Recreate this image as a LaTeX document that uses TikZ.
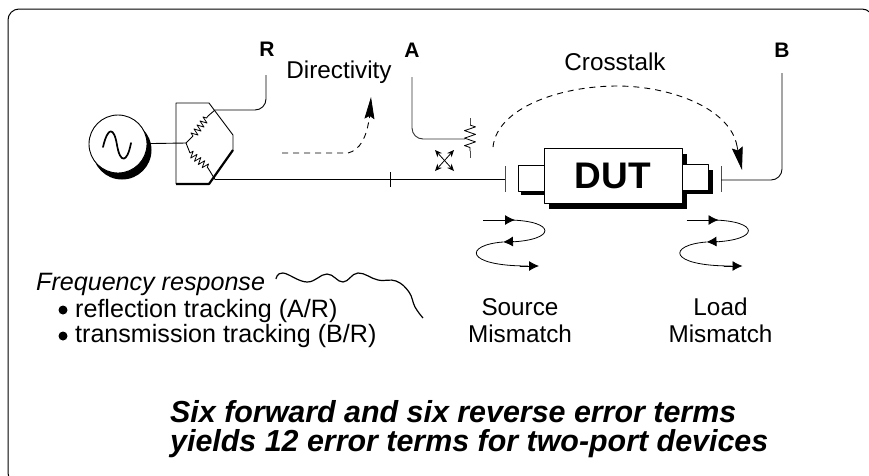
\documentclass[tikz,border=0pt]{standalone}
\usepackage{fontspec}
\setmainfont{Liberation Sans}
\usetikzlibrary{arrows.meta,decorations.pathmorphing}
\tikzset{
	label text/.style = {font = \fontsize{24.3}{27}\selectfont, inner sep = 0pt, align = center},
	port text/.style = {font = \fontsize{21}{24}\selectfont\bfseries, inner sep = 0pt},
	sum text/.style = {font = \fontsize{30.4}{34}\selectfont\bfseries\itshape, inner sep = 0pt, anchor = base west},
	list text/.style = {font = \fontsize{25.1}{27}\selectfont, inner sep = 0pt, anchor = base west},
	wire/.style = {line width = 0.9pt},
	resistor/.style = {line width = 0.8pt, decorate, decoration = {zigzag, segment length = 5pt, amplitude = 3.5pt}},
	signal/.style = {line width = 0.8pt, -{Latex[length = 10pt, width = 10pt]}},
	leak/.style = {line width = 0.9pt, dash pattern = on 6pt off 5pt},
	double tip/.style = {line width = 0.8pt, {Stealth[length = 7pt, width = 6pt]}-{Stealth[length = 7pt, width = 6pt]}},
	port tick/.style = {line width = 1pt, black!70}
}
\begin{document}
\begin{tikzpicture}[x = 1pt, y = -1pt, line join = round]
	\useasboundingbox (0, 0) rectangle (869, 475);
	\clip (0, 0) rectangle (869, 475);
	%%%%%%%%%%%%%
	\draw [line width = 1pt, rounded corners = 11pt] (8, 9) rectangle (873, 484);
	%%%%%%%%%%%%%
	% source
	\fill (122, 150) circle [radius = 29.5];
	\node (source) [circle, draw, fill = white, line width = 0.9pt, minimum size = 58pt, inner sep = 0pt] at (118, 144) {};
	\draw [line width = 1.7pt, line cap = round] (103, 147) .. controls (108, 126) and (114, 127) .. (117, 145) .. controls (120, 163) and (127, 164) .. (131, 143);
	%%%%%%%%%%%%%
	% power splitter
	\coordinate (pda) at (176, 103);
	\coordinate (pdb) at (209, 103);
	\coordinate (pdc) at (233, 135);
	\coordinate (pdd) at (233, 150);
	\coordinate (pde) at (209, 184);
	\coordinate (pdf) at (176, 184);
	\coordinate (hub) at (186, 143);
	\coordinate (top) at (215, 110);
	\coordinate (bot) at (215, 179.5);
	\draw [line width = 2.2pt] (pdd) -- (pde) -- (pdf);
	\draw [line width = 0.9pt] (pdf) -- (pda) -- (pdb) -- (pdc) -- (pdd);
	\draw [wire] (source) -- (hub);
	\coordinate (rta) at (193, 136);
	\coordinate (rtb) at (208, 116);
	\coordinate (rba) at (190, 153);
	\coordinate (rbb) at (208, 168);
	\draw [wire] (hub) -- (rta);
	\draw [wire] (hub) -- (rba);
	\draw [resistor] (rta) -- (rtb);
	\draw [resistor] (rba) -- (rbb);
	\draw [wire] (rtb) -- (top);
	\draw [wire] (rbb) -- (bot);
	%%%%%%%%%%%%%
	% wires to the receivers
	\node (r) [port text] at (267, 49) {R};
	\node (a) [port text] at (412, 50) {A};
	\node (b) [port text] at (782, 50) {B};
	\coordinate (rend) at (266, 75);
	\coordinate (aend) at (412, 77);
	\coordinate (bend) at (782, 73);
	\coordinate (srcport) at (505, 179.5);
	\draw [wire, rounded corners = 11pt] (top) -- (266, 110) -- (rend);
	\draw [wire] (bot) -- (srcport);
	%%%%%%%%%%%%%
	\draw [line width = 0.7pt] (390.5, 172) -- (390.5, 187);
	\draw [port tick] (505, 166) -- (505, 192);
	%%%%%%%%%%%%%
	% coupler
	\coordinate (cpl) at (465, 139);
	\draw [wire, rounded corners = 11pt, black!80] (aend) -- (412, 139) -- (cpl);
	\draw [line width = 0.8pt, black!70] (470, 118) -- (470, 125);
	\draw [line width = 0.8pt, decorate, decoration = {zigzag, segment length = 7.5pt, amplitude = 5.5pt}] (470, 125) -- (470, 151);
	\draw [line width = 0.8pt, black!70] (470, 151) -- (470, 158);
	\draw [double tip] (435, 171) -- (454, 150);
	\draw [double tip] (435, 150) -- (454, 171);
	%%%%%%%%%%%%%
	% device
	\fill (521, 170) rectangle (549, 195);
	\fill (549, 154) rectangle (687, 209);
	\fill (687, 170) rectangle (713, 194);
	\draw [line width = 1pt, fill = white] (518, 165) rectangle (544, 191);
	\draw [line width = 1pt, fill = white] (682, 164) rectangle (708, 190);
	\node (dut) [draw, fill = white, line width = 1pt, minimum width = 138pt, minimum height = 55pt, inner sep = 0pt, font = \fontsize{37}{40}\selectfont\bfseries] at (613, 175.5) {DUT};
	\draw [port tick] (721, 166) -- (721, 192);
	\draw [wire, rounded corners = 11pt] (721, 180) -- (782, 180) -- (bend);
	%%%%%%%%%%%%%
	% error paths
	\node (directivity) [label text] at (339, 72) {Directivity};
	\node (crosstalk) [label text] at (615, 62) {Crosstalk};
	\coordinate (dirfrom) at (282, 153);
	\coordinate (dirto) at (371, 97);
	\draw [leak] (dirfrom) -- (348, 153) .. controls (360, 150) and (366, 138) .. (369, 120);
	\draw [-{Stealth[length = 22pt, width = 10pt, inset = 3pt]}, line width = 0.8pt] (369.5, 118) -- (dirto);
	\coordinate (xfrom) at (493, 147);
	\coordinate (xto) at (742, 170);
	\draw [leak] (xfrom) .. controls (497, 108) and (560, 86) .. (617, 86) .. controls (670, 86) and (730, 108) .. (737, 146);
	\draw [-{Stealth[length = 23pt, width = 11pt, inset = 3pt]}, line width = 0.8pt] (737, 146) -- (xto);
	%%%%%%%%%%%%%
	% mismatch loops
	\foreach \name/\ox in {source/0, load/203.5} {
		\begin{scope}[xshift = \ox]
			\coordinate (\name a) at (483, 220);
			\coordinate (\name b) at (503, 242);
			\coordinate (\name c) at (539, 266);
			\draw [signal] (\name a) -- (515, 220);
			\draw [line width = 0.8pt] (510, 220) .. controls (556, 221) and (557, 240) .. (510, 242);
			\draw [signal] (514, 241.5) -- (\name b);
			\draw [line width = 0.8pt] (\name b) .. controls (464, 245) and (464, 266) .. (528, 266);
			\draw [signal] (520, 266) -- (\name c);
		\end{scope}
	}
	\node (sourcetxt) [label text, anchor = base] at (520, 342) {Source\\Mismatch};
	\node (loadtxt) [label text, anchor = base] at (720.5, 342) {Load\\Mismatch};
	%%%%%%%%%%%%%
	% frequency response
	\node (freq) [list text, font = \fontsize{25.1}{27}\selectfont\itshape] at (36, 290) {Frequency response};
	\node (refl) [list text] at (75, 317) {reflection tracking (A/R)};
	\node (tran) [list text] at (75, 342) {transmission tracking (B/R)};
	\fill (63, 310) circle [radius = 4.5];
	\fill (63, 336) circle [radius = 4.5];
	\draw [line width = 1.2pt] plot [smooth, tension = 0.7] coordinates {(276, 279) (283, 273) (307, 282) (327, 274) (343, 282) (358, 273) (378, 280) (396, 281) (409, 292) (415, 307) (423, 318)};
	%%%%%%%%%%%%%
	\node (sumone) [sum text] at (170, 422) {Six forward and six reverse error terms};
	\node (sumtwo) [sum text] at (170, 451) {yields 12 error terms for two-port devices};
	%%%%%%%%%%%%%%
\end{tikzpicture}
\end{document}
